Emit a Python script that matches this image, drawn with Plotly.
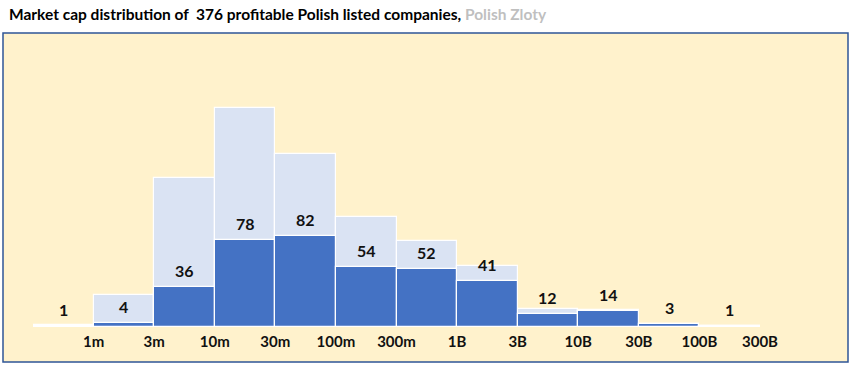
import plotly.graph_objects as go

# Data
bin_labels = ["<1m", "1m-3m", "3m-10m", "10m-30m", "30m-100m", "100m-300m",
              "300m-1B", "1B-3B", "3B-10B", "10B-30B", "30B-100B", "100B-300B"]
profitable = [1, 4, 36, 78, 82, 54, 52, 41, 12, 14, 3, 1]
all_companies = [2, 29, 134, 196, 155, 99, 77, 55, 16, 15, 3, 1]
tick_text = ["1m", "3m", "10m", "30m", "100m", "300m", "1B", "3B", "10B", "30B", "100B", "300B"]

x_idx = list(range(len(bin_labels)))
tick_pos = [i + 0.5 for i in x_idx]

FONT = "Lato"

fig = go.Figure()
fig.add_trace(go.Bar(
    x=x_idx, y=all_companies, width=1,
    marker=dict(color="#DAE3F3", line=dict(color="white", width=1.2)),
    hoverinfo="skip", name="All",
))
fig.add_trace(go.Bar(
    x=x_idx, y=profitable, width=1,
    marker=dict(color="#4472C4", line=dict(color="white", width=1.2)),
    name="Profitable",
))

for i, v in zip(x_idx, profitable):
    fig.add_annotation(x=i, y=v, text=str(v), showarrow=False,
                       yanchor="bottom", yshift=5,
                       font=dict(family=FONT, size=16, color="#111111", weight="bold"))

# plot area: x 33..760 px, baseline y=327, top y=40
L, R, T, B = 33, 857 - 760, 40, 371 - 327
pw, ph = 857 - L - R, 371 - T - B

def px(xp):
    return (xp - L) / pw

def py(yp):
    return (371 - B - yp) / ph

fig.add_shape(type="rect", xref="paper", yref="paper",
              x0=px(3), x1=px(848), y0=py(362), y1=py(33),
              fillcolor="#FFF2CC", line=dict(color="#2F5597", width=1.5),
              layer="below")

fig.update_layout(
    width=857, height=371,
    margin=dict(l=L, r=R, t=T, b=B),
    paper_bgcolor="white", plot_bgcolor="rgba(0,0,0,0)",
    barmode="overlay", bargap=0, showlegend=False,
    title=dict(
        text="<b>Market cap distribution of  376 profitable Polish listed companies, </b>"
             "<span style='color:#BFBFBF'><b>Polish Zloty</b></span>",
        x=9 / 857, xanchor="left", xref="container",
        y=1 - 15 / 371, yanchor="middle", yref="container",
        font=dict(family=FONT, size=15.5, color="#000000"),
    ),
    xaxis=dict(range=[-0.5, 11.5], tickvals=tick_pos, ticktext=tick_text,
               showgrid=False, zeroline=False, showline=False, ticks="",
               tickfont=dict(family=FONT, size=15, color="#111111", weight="bold"),
               ticklabelstandoff=4, fixedrange=True),
    yaxis=dict(range=[0, (327 - 40) / 1.115], visible=False, showgrid=False,
               zeroline=False, fixedrange=True),
)

fig.write_html("out.html", config={"displayModeBar": False},
               post_script="document.body.style.margin='0';document.body.style.overflow='hidden';")
